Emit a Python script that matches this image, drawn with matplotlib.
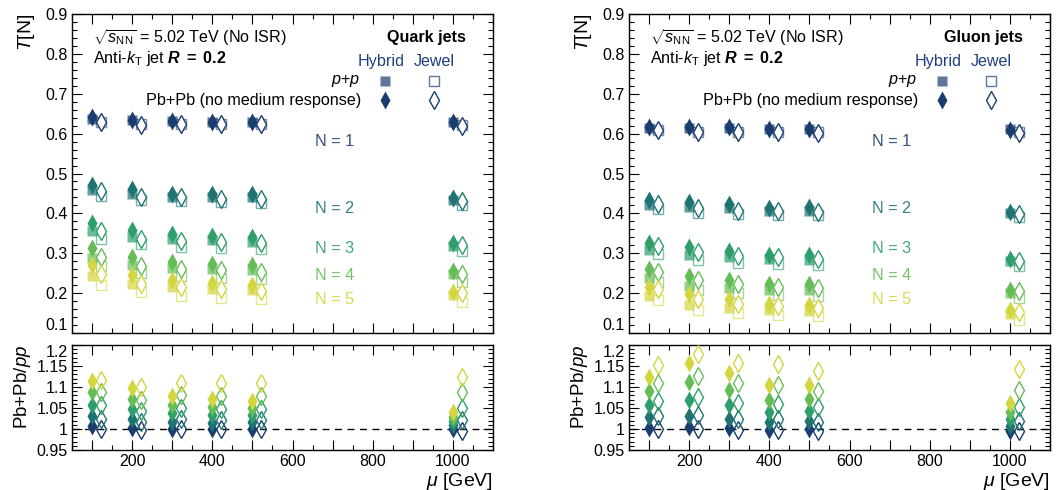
import numpy as np
import matplotlib
matplotlib.use("Agg")
import matplotlib.pyplot as plt
from matplotlib.ticker import MultipleLocator, FuncFormatter

plt.rcParams['font.family'] = ['Liberation Sans', 'DejaVu Sans']
plt.rcParams['mathtext.fontset'] = 'custom'
plt.rcParams['mathtext.rm'] = 'Liberation Sans'
plt.rcParams['mathtext.it'] = 'Liberation Sans:italic'
plt.rcParams['mathtext.bf'] = 'Liberation Sans:bold'
plt.rcParams['mathtext.bfit'] = 'Liberation Sans:italic:bold'

# jet energy scale mu [GeV]
mu = [100, 200, 300, 400, 500, 1000]
n_labels = ["N = 1", "N = 2", "N = 3", "N = 4", "N = 5"]
n_colors = ['#1a3d70', '#1f7373', '#2e9e6a', '#66bd57', '#d3d63f']

# ---- Quark jets: T[N] in p+p, rows N=1..5 ----
quark_hybrid_pp = [
    [0.637, 0.633, 0.631, 0.630, 0.629, 0.628],
    [0.458, 0.449, 0.442, 0.442, 0.441, 0.434],
    [0.356, 0.342, 0.335, 0.332, 0.329, 0.319],
    [0.288, 0.271, 0.263, 0.260, 0.257, 0.249],
    [0.243, 0.224, 0.215, 0.210, 0.207, 0.196],
]
quark_jewel_pp = [
    [0.629, 0.624, 0.624, 0.623, 0.623, 0.621],
    [0.444, 0.434, 0.430, 0.428, 0.426, 0.422],
    [0.336, 0.323, 0.315, 0.313, 0.311, 0.305],
    [0.267, 0.250, 0.242, 0.238, 0.235, 0.229],
    [0.221, 0.202, 0.193, 0.189, 0.186, 0.178],
]
# Pb+Pb / pp ratios
quark_hybrid_ratio = [
    [1.007, 1.003, 1.000, 1.000, 1.000, 1.000],
    [1.031, 1.025, 1.017, 1.015, 1.017, 1.010],
    [1.058, 1.048, 1.037, 1.033, 1.033, 1.019],
    [1.087, 1.071, 1.058, 1.053, 1.049, 1.029],
    [1.115, 1.097, 1.079, 1.071, 1.066, 1.041],
]
quark_jewel_ratio = [
    [1.001, 0.998, 1.000, 1.000, 1.000, 0.995],
    [1.025, 1.017, 1.023, 1.021, 1.021, 1.021],
    [1.057, 1.043, 1.049, 1.048, 1.048, 1.051],
    [1.087, 1.069, 1.081, 1.079, 1.079, 1.087],
    [1.117, 1.099, 1.110, 1.110, 1.109, 1.123],
]

# ---- Gluon jets ----
gluon_hybrid_pp = [
    [0.615, 0.615, 0.615, 0.612, 0.612, 0.612],
    [0.421, 0.416, 0.413, 0.407, 0.407, 0.401],
    [0.309, 0.296, 0.290, 0.285, 0.284, 0.280],
    [0.238, 0.219, 0.212, 0.209, 0.207, 0.200],
    [0.192, 0.171, 0.163, 0.157, 0.155, 0.148],
]
gluon_jewel_pp = [
    [0.608, 0.605, 0.605, 0.605, 0.605, 0.605],
    [0.411, 0.401, 0.398, 0.396, 0.396, 0.391],
    [0.299, 0.282, 0.275, 0.273, 0.271, 0.267],
    [0.229, 0.207, 0.200, 0.196, 0.194, 0.188],
    [0.182, 0.158, 0.150, 0.146, 0.143, 0.133],
]
gluon_hybrid_ratio = [
    [1.003, 1.004, 1.002, 0.998, 1.000, 0.995],
    [1.028, 1.032, 1.025, 1.017, 1.020, 1.008],
    [1.058, 1.069, 1.057, 1.041, 1.043, 1.023],
    [1.091, 1.113, 1.093, 1.069, 1.071, 1.041],
    [1.125, 1.156, 1.134, 1.105, 1.105, 1.063],
]
gluon_jewel_ratio = [
    [1.000, 1.000, 0.998, 0.998, 0.996, 0.995],
    [1.031, 1.033, 1.023, 1.023, 1.017, 1.020],
    [1.067, 1.077, 1.063, 1.060, 1.052, 1.052],
    [1.110, 1.126, 1.109, 1.105, 1.091, 1.094],
    [1.152, 1.179, 1.156, 1.154, 1.139, 1.144],
]

# label y positions of the N = k annotations
n_label_y = [0.581, 0.411, 0.311, 0.245, 0.185]

JEWEL_SHIFT = 22
DIAMOND_MS = 9.0
SQUARE_MS = 7.0
TXT = 11.6

fig = plt.figure(figsize=(10.62, 4.9), dpi=100)


def style_axis(ax):
    ax.tick_params(which='both', direction='in', top=True, right=True,
                   labelsize=11.5, pad=3, width=0.8)
    ax.tick_params(which='major', length=7)
    ax.tick_params(which='minor', length=3.5)
    for s in ax.spines.values():
        s.set_linewidth(1.0)


def draw_panel(x0, title, hyb_pp, jew_pp, hyb_r, jew_r):
    ax = fig.add_axes([x0, 0.3204, 0.3964, 0.651])
    axr = fig.add_axes([x0, 0.0816, 0.3964, 0.2143], sharex=ax)
    mu_arr = np.array(mu, dtype=float)
    mu_j = mu_arr + JEWEL_SHIFT
    for i in range(5):
        c = n_colors[i]
        hp = np.array(hyb_pp[i])
        jp = np.array(jew_pp[i])
        hr = np.array(hyb_r[i])
        jr = np.array(jew_r[i])
        hpb = hp * hr
        jpb = jp * jr
        # p+p
        ax.plot(mu_arr, hp, ls='none', marker='s', ms=SQUARE_MS, mfc=c, mec='none', alpha=0.7, zorder=3)
        ax.plot(mu_j, jp, ls='none', marker='s', ms=SQUARE_MS, mfc='none', mec=c, mew=1.0, alpha=0.6, zorder=3)
        # Pb+Pb
        ax.plot(mu_arr, hpb, ls='none', marker='d', ms=DIAMOND_MS, mfc=c, mec='none', zorder=4)
        ax.plot(mu_j, jpb, ls='none', marker='d', ms=DIAMOND_MS, mfc='white', mec=c, mew=1.0, zorder=4)
        # ratios
        axr.plot(mu_arr, hr, ls='none', marker='d', ms=DIAMOND_MS, mfc=c, mec='none', zorder=4)
        axr.plot(mu_j, jr, ls='none', marker='d', ms=DIAMOND_MS, mfc='none', mec=c, mew=1.0, zorder=4)
        ax.text(657, n_label_y[i], n_labels[i], color=c, alpha=0.9, fontsize=TXT,
                ha='left', va='center')

    ax.set_xlim(50, 1100)
    ax.set_ylim(0.1, 0.9)
    ax.yaxis.set_major_locator(MultipleLocator(0.1))
    ax.yaxis.set_minor_locator(MultipleLocator(0.02))
    ax.yaxis.set_major_formatter(FuncFormatter(lambda v, p: f"{v:.1f}"))
    ax.xaxis.set_major_locator(MultipleLocator(100))
    ax.xaxis.set_minor_locator(MultipleLocator(50))
    ax.tick_params(axis='x', labelbottom=False)
    style_axis(ax)
    ax.set_ylabel(r'$T$[N]', fontsize=14, loc='top', labelpad=6)

    axr.set_ylim(0.95, 1.2)
    axr.axhline(1.0, color='black', ls=(0, (5, 4)), lw=1.0, zorder=2)
    axr.yaxis.set_major_locator(MultipleLocator(0.05))
    axr.yaxis.set_minor_locator(MultipleLocator(0.01))
    axr.yaxis.set_major_formatter(FuncFormatter(lambda v, p: f"{v:g}"))
    axr.xaxis.set_major_formatter(
        FuncFormatter(lambda v, p: f"{v:g}" if abs(v % 200) < 1e-6 else ""))
    style_axis(axr)
    axr.set_ylabel(r'Pb+Pb/$pp$', fontsize=13.5, loc='top', labelpad=3)
    axr.set_xlabel(r'$\mu$ [GeV]', fontsize=14, loc='right', labelpad=1)

    # keep the lowest label of the upper pad clear of the top label of the ratio pad
    fig.canvas.draw()
    for lab in ax.get_yticklabels():
        if lab.get_text() == '0.1':
            lab.set_verticalalignment('bottom')
    for lab in axr.get_yticklabels():
        if lab.get_text() == '1.2':
            lab.set_verticalalignment('top')

    # header text
    ax.text(0.05, 0.925, r'$\sqrt{s_{\mathrm{NN}}}$ = 5.02 TeV (No ISR)',
            transform=ax.transAxes, fontsize=TXT, ha='left', va='center')
    ax.text(0.05, 0.862, r'Anti-$k_{\mathrm{T}}$ jet $\mathbfit{R}$$\mathbf{\ =\ 0.2}$',
            transform=ax.transAxes, fontsize=TXT, ha='left', va='center')
    ax.text(0.936, 0.925, title, transform=ax.transAxes, fontsize=TXT,
            fontweight='bold', ha='right', va='center')
    navy = '#1f3f7f'
    ax.text(0.734, 0.850, 'Hybrid', transform=ax.transAxes, fontsize=TXT,
            color=navy, ha='center', va='center')
    ax.text(0.860, 0.850, 'Jewel', transform=ax.transAxes, fontsize=TXT,
            color=navy, ha='center', va='center')
    ax.text(0.684, 0.790, r'$p$+$p$', transform=ax.transAxes, fontsize=TXT,
            ha='right', va='center')
    ax.text(0.686, 0.730, 'Pb+Pb (no medium response)', transform=ax.transAxes,
            fontsize=TXT, ha='right', va='center')
    ax.plot([0.743], [0.790], transform=ax.transAxes, marker='s', ms=SQUARE_MS,
            mfc=n_colors[0], mec='none', alpha=0.7, clip_on=False)
    ax.plot([0.860], [0.790], transform=ax.transAxes, marker='s', ms=SQUARE_MS,
            mfc='none', mec=n_colors[0], mew=1.0, alpha=0.7, clip_on=False)
    ax.plot([0.743], [0.730], transform=ax.transAxes, marker='d', ms=DIAMOND_MS,
            mfc=n_colors[0], mec='none', clip_on=False)
    ax.plot([0.860], [0.730], transform=ax.transAxes, marker='d', ms=DIAMOND_MS,
            mfc='white', mec=n_colors[0], mew=1.0, clip_on=False)
    return ax, axr


draw_panel(0.0678, 'Quark jets', quark_hybrid_pp, quark_jewel_pp,
           quark_hybrid_ratio, quark_jewel_ratio)
draw_panel(0.5923, 'Gluon jets', gluon_hybrid_pp, gluon_jewel_pp,
           gluon_hybrid_ratio, gluon_jewel_ratio)

fig.savefig('out.png', dpi=100)
